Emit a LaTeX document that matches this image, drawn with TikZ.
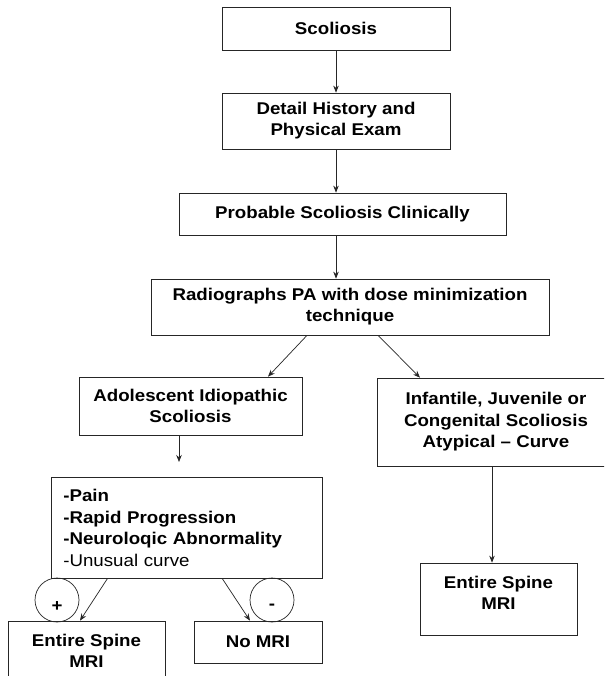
\documentclass[tikz,border=0pt]{standalone}
\usepackage{fontspec}
\setmainfont{Liberation Sans}[FakeStretch=1.1]
\usetikzlibrary{arrows.meta}
\begin{document}
\begin{tikzpicture}[x=1pt, y=-1pt, font=\fontsize{17}{21.5}\selectfont\bfseries,
    flowbox/.style={draw=black!85, line width=0.7pt, align=center, inner sep=0pt},
    arr/.style={draw=black!85, line width=0.7pt, -{Stealth[length=7pt, width=5.5pt]}},
    sign/.style={draw=black!85, line width=0.7pt, circle, minimum size=44pt, inner sep=0pt}]
  \useasboundingbox (0,0) rectangle (604,676);
  \clip (0,0) rectangle (604,676);
  \fill[white] (0,0) rectangle (604,676);
  % name / centre x / centre y / width / height / text depth / text
  \foreach \n/\x/\y/\w/\h/\d/\t in {
      scol/336/28.5/228/43/0/{Scoliosis},
      detail/336/121/228/56/4/{Detail History and\\Physical Exam},
      prob/342.5/214/327/42/4/{Probable Scoliosis Clinically},
      radio/350/307/398/56/4/{Radiographs PA with dose minimization\\technique},
      ais/190.5/406/223/58/0/{Adolescent Idiopathic\\Scoliosis},
      atyp/496/422/238/88/4/{Infantile, Juvenile or\\Congenital Scoliosis\\Atypical -- Curve},
      espL/86.5/657/157/72/12/{Entire Spine\\MRI},
      noMRI/258/642/128/42/0/{No MRI},
      espR/498.5/599/157/72/12/{Entire Spine\\MRI}} {
    \node[flowbox, minimum width=\w pt, minimum height=\h pt, text depth=\d pt] (\n) at (\x,\y) {\t};
  }
  \node[flowbox, anchor=north west, align=left, text width=247pt, inner xsep=12pt,
    minimum height=101pt] (crit) at (51,477)
    {-Pain\\-Rapid Progression\\-Neuroloqic Abnormality\\{\mdseries -Unusual curve}};
  \node[sign] (plus) at (57,600) {};
  \node (plustxt) at ([yshift=-7pt]plus.center) {+};
  \node[sign] (minus) at (272,600) {};
  \node (minustxt) at ([yshift=-7pt]minus.center) {-};
  \coordinate (aisend) at (179,462);
  \draw[arr] (scol) -- (detail);
  \draw[arr] (detail.south) -- (detail.south |- prob.north);
  \draw[arr] (prob.south -| scol.south) -- (radio.north -| scol.south);
  \draw[arr] ([xshift=-43pt]radio.south) -- ([xshift=77.5pt]ais.north);
  \draw[arr] ([xshift=28pt]radio.south) -- ([xshift=-76pt]atyp.north);
  \draw[arr] (ais.south -| aisend) -- (aisend);
  \draw[arr] ([xshift=-4pt]atyp.south) -- ([xshift=-6.5pt]espR.north);
  \draw[arr] ([xshift=-79.5pt]crit.south) -- ([xshift=-6.5pt]espL.north);
  \draw[arr] ([xshift=35.5pt]crit.south) -- ([xshift=-8pt]noMRI.north);
\end{tikzpicture}
\end{document}
